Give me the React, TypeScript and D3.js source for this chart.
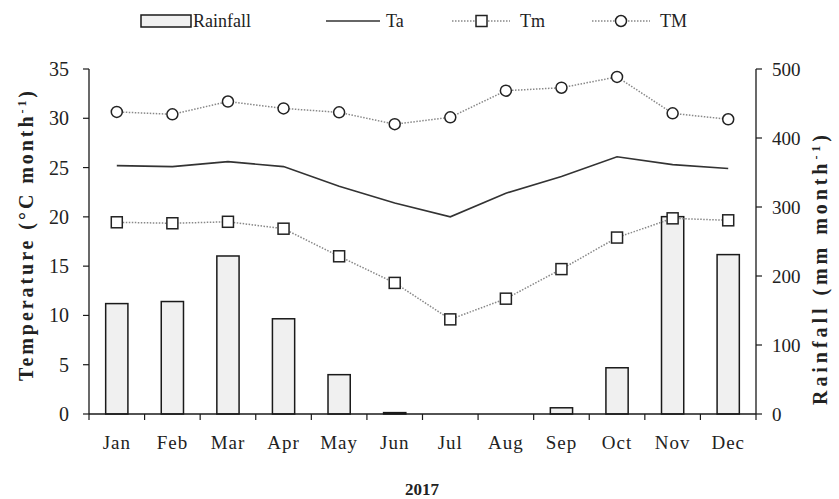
import React from "react";
import * as d3 from "d3";

const months = ["Jan", "Feb", "Mar", "Apr", "May", "Jun", "Jul", "Aug", "Sep", "Oct", "Nov", "Dec"];
const rainfall = [160, 163, 229, 138, 57, 2, 0, 0, 9, 67, 286, 231];
const ta = [25.2, 25.1, 25.6, 25.1, 23.1, 21.4, 20.0, 22.4, 24.1, 26.1, 25.3, 24.9];
const tm = [19.45, 19.35, 19.5, 18.8, 16.0, 13.3, 9.6, 11.7, 14.7, 17.9, 19.85, 19.65];
const tmax = [30.65, 30.4, 31.7, 31.0, 30.6, 29.4, 30.1, 32.8, 33.1, 34.2, 30.5, 29.9];
const tempTicks = [0, 5, 10, 15, 20, 25, 30, 35];
const rainTicks = [0, 100, 200, 300, 400, 500];

const W = 839, H = 499;
const L = 89, R = 756, T = 69, B = 414;
const FONT = "'Liberation Serif', 'Times New Roman', serif";

export default function App() {
  const x = d3.scaleBand<string>().domain(months).range([L, R]).paddingInner(0).paddingOuter(0);
  const yT = d3.scaleLinear().domain([0, 35]).range([B, T]);
  const yR = d3.scaleLinear().domain([0, 500]).range([B, T]);
  const bw = x.bandwidth();
  const barW = bw * 0.4;
  const cx = (m: string) => (x(m) as number) + bw / 2;
  const line = d3.line<number>().x((_, i) => cx(months[i])).y((v) => yT(v));
  const boundaries = d3.range(13).map((i) => L + i * bw);

  return (
    <svg width={W} height={H} style={{ position: "absolute", left: 0, top: 0, background: "#fff" }} fontFamily={FONT}>
      <rect x={0} y={0} width={W} height={H} fill="#fff" />
      {/* bars */}
      {rainfall.map((v, i) => (
        <rect key={"b" + i} x={cx(months[i]) - barW / 2} y={yR(v)} width={barW} height={B - yR(v)}
          fill="#f0f0f0" stroke="#1a1a1a" strokeWidth={1.5} />
      ))}
      {/* axes */}
      <line x1={L} x2={L} y1={T} y2={B} stroke="#1a1a1a" strokeWidth={1.3} />
      <line x1={R} x2={R} y1={T} y2={B} stroke="#1a1a1a" strokeWidth={1.3} />
      <line x1={L} x2={R} y1={B} y2={B} stroke="#1a1a1a" strokeWidth={1.3} />
      {tempTicks.map((t) => (
        <g key={"lt" + t}>
          <line x1={L - 6} x2={L} y1={yT(t)} y2={yT(t)} stroke="#1a1a1a" strokeWidth={1.2} />
          <text x={L - 20} y={yT(t)} dy="0.35em" textAnchor="end" fontSize={20} fill="#222">{t}</text>
        </g>
      ))}
      {rainTicks.map((t) => (
        <g key={"rt" + t}>
          <line x1={R} x2={R + 6} y1={yR(t)} y2={yR(t)} stroke="#1a1a1a" strokeWidth={1.2} />
          <text x={R + 16} y={yR(t)} dy="0.35em" textAnchor="start" fontSize={19} fill="#222">{t}</text>
        </g>
      ))}
      {boundaries.map((b, i) => (
        <line key={"xt" + i} x1={b} x2={b} y1={B} y2={B + 6} stroke="#1a1a1a" strokeWidth={1.2} />
      ))}
      {months.map((m) => (
        <text key={"xl" + m} x={cx(m)} y={449} textAnchor="middle" fontSize={19} letterSpacing={1} fill="#222">{m}</text>
      ))}
      <text x={422} y={495} textAnchor="middle" fontSize={17} fontWeight="bold" fill="#222">2017</text>
      {/* axis titles */}
      <text transform={`translate(33,236) rotate(-90)`} textAnchor="middle" fontSize={20} fontWeight="bold" fill="#222"
        textLength={290} lengthAdjust="spacing">
        Temperature  (°C month<tspan dy={-7} fontSize={12}>-1</tspan><tspan dy={7}>)</tspan>
      </text>
      <text transform={`translate(827,270) rotate(-90)`} textAnchor="middle" fontSize={20} fontWeight="bold" fill="#222"
        textLength={270} lengthAdjust="spacing">
        Rainfall  (mm  month<tspan dy={-7} fontSize={12}>-1</tspan><tspan dy={7}>)</tspan>
      </text>
      {/* lines */}
      <path d={line(tmax) || ""} fill="none" stroke="#888" strokeWidth={1.5} strokeDasharray="1.5,1.5" />
      <path d={line(tm) || ""} fill="none" stroke="#888" strokeWidth={1.5} strokeDasharray="1.5,1.5" />
      <path d={line(ta) || ""} fill="none" stroke="#333" strokeWidth={1.6} />
      {tmax.map((v, i) => (
        <circle key={"c" + i} cx={cx(months[i])} cy={yT(v)} r={5.5} fill="#fff" stroke="#222" strokeWidth={1.5} />
      ))}
      {tm.map((v, i) => (
        <rect key={"s" + i} x={cx(months[i]) - 5.5} y={yT(v) - 5.5} width={11} height={11} fill="#fff" stroke="#222" strokeWidth={1.5} />
      ))}
      {/* legend */}
      <g fontSize={18} fill="#222">
        <rect x={141} y={15} width={50} height={12} fill="#f0f0f0" stroke="#1a1a1a" strokeWidth={1.5} />
        <text x={193} y={21} dy="0.35em">Rainfall</text>
        <line x1={326} x2={380} y1={21} y2={21} stroke="#333" strokeWidth={1.6} />
        <text x={386} y={21} dy="0.35em">Ta</text>
        <line x1={452} x2={510} y1={21} y2={21} stroke="#888" strokeWidth={1.5} strokeDasharray="1.5,1.5" />
        <rect x={476} y={15.5} width={11} height={11} fill="#fff" stroke="#222" strokeWidth={1.5} />
        <text x={520} y={21} dy="0.35em">Tm</text>
        <line x1={592} x2={650} y1={21} y2={21} stroke="#888" strokeWidth={1.5} strokeDasharray="1.5,1.5" />
        <circle cx={621} cy={21} r={5.5} fill="#fff" stroke="#222" strokeWidth={1.5} />
        <text x={660} y={21} dy="0.35em">TM</text>
      </g>
    </svg>
  );
}
